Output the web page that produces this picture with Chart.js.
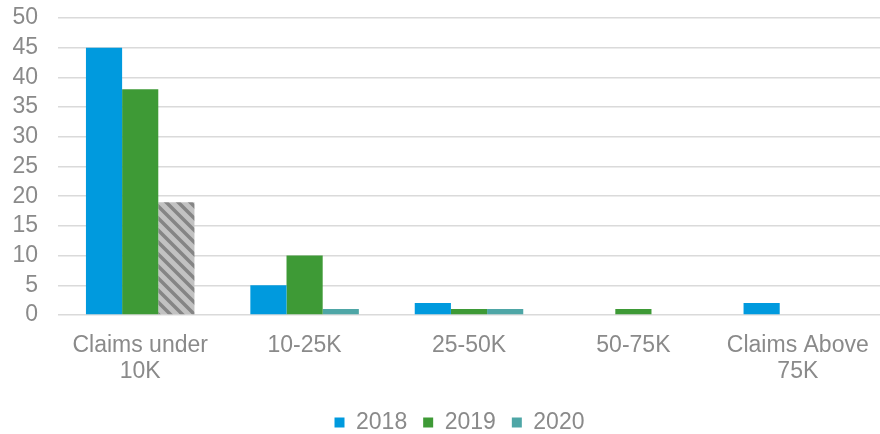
<!DOCTYPE html>
<html>
<head>
<meta charset="utf-8">
<script src="https://cdn.jsdelivr.net/npm/chart.js@4/dist/chart.umd.min.js"></script>
<style>
  html, body { margin: 0; padding: 0; background: #fff; }
  #wrap { width: 880px; height: 434px; position: relative; }
</style>
</head>
<body>
<div id="wrap"><canvas id="c"></canvas></div>
<script>
const categories = [['Claims under', '10K'], '10-25K', '25-50K', '50-75K', ['Claims Above', '75K']];
const values2018 = [45, 5, 2, 0, 2];
const values2019 = [38, 10, 1, 1, 0];
const values2020 = [19, 1, 1, 0, 0];
const yTicks = [0, 5, 10, 15, 20, 25, 30, 35, 40, 45, 50];

// diagonal hatch used for the highlighted 2020 bar
function hatch() {
  const s = 12;
  const p = document.createElement('canvas');
  p.width = s; p.height = s;
  const g = p.getContext('2d');
  g.fillStyle = '#c2c2c2';
  g.fillRect(0, 0, s, s);
  g.strokeStyle = '#858585';
  g.lineWidth = 3.5;
  g.beginPath();
  g.moveTo(-3, -3); g.lineTo(s + 3, s + 3);
  g.moveTo(-3, s - 3); g.lineTo(3, s + 3);
  g.moveTo(s - 3, -3); g.lineTo(s + 3, 3);
  g.stroke();
  return g.createPattern(p, 'repeat');
}

const teal = '#4ea6a6';
const colors2020 = values2020.map((v, i) => i === 0 ? hatch() : teal);
const font = 'Liberation Sans, Arial';

// nudge the legend a little right, like the original
const legendShift = {
  id: 'legendShift',
  afterLayout(chart) {
    chart.legend.left += 14;
    chart.legend.right += 14;
  }
};

const ctx = document.getElementById('c').getContext('2d');
new Chart(ctx, {
  type: 'bar',
  data: {
    labels: categories,
    datasets: [
      { label: '2018', data: values2018, backgroundColor: '#009ade' },
      { label: '2019', data: values2019, backgroundColor: '#3e9a36' },
      { label: '2020', data: values2020, backgroundColor: colors2020 }
    ]
  },
  plugins: [legendShift],
  options: {
    responsive: true,
    maintainAspectRatio: false,
    animation: false,
    layout: { padding: { top: 18, right: 0, left: 11, bottom: -10 } },
    datasets: { bar: { categoryPercentage: 0.66, barPercentage: 1.0 } },
    plugins: {
      tooltip: { enabled: false },
      legend: {
        position: 'bottom',
        labels: {
          color: '#8a8a8a',
          font: { family: font, size: 23 },
          boxWidth: 10,
          boxHeight: 10,
          padding: 16,
          generateLabels: chart => chart.data.datasets.map((ds, i) => ({
            text: ds.label,
            fillStyle: i === 2 ? teal : ds.backgroundColor,
            strokeStyle: 'transparent',
            lineWidth: 0,
            datasetIndex: i,
            fontColor: '#8a8a8a'
          }))
        }
      }
    },
    scales: {
      x: {
        grid: { display: false },
        border: { display: false },
        afterFit: axis => { axis.paddingLeft = 0; axis.paddingRight = 0; axis.height = 80; },
        ticks: {
          color: '#8a8a8a',
          font: { family: font, size: 23, lineHeight: 1.12 },
          maxRotation: 0,
          autoSkip: false,
          padding: 10
        }
      },
      y: {
        min: 0,
        max: 50,
        afterBuildTicks: axis => { axis.ticks = yTicks.map(v => ({ value: v })); },
        afterFit: axis => { axis.width = 47; axis.paddingTop = 0; axis.paddingBottom = 0; },
        grid: { color: '#dadada', lineWidth: 1.6, drawTicks: false },
        border: { display: false },
        ticks: {
          color: '#8a8a8a',
          font: { family: font, size: 23 },
          autoSkip: false,
          padding: 20
        }
      }
    }
  }
});
</script>
</body>
</html>
